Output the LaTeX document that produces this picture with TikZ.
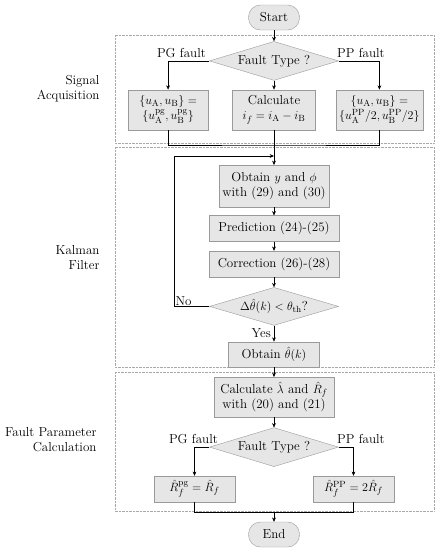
\documentclass[tikz,border=0pt]{standalone}
\usepackage{amsmath,amssymb}
\usepackage{tikz}
\usetikzlibrary{arrows.meta,positioning,shapes.geometric,calc}
\usepackage{xcolor}
\definecolor{BoxFill}{HTML}{E6E6E6}
\definecolor{BoxLine}{HTML}{9A9A9A}
\definecolor{RegionLine}{HTML}{A8A8A8}

\begin{document}
\begin{tikzpicture}[x=1pt,y=1pt,
  every node/.style={font=\fontsize{13}{15}\selectfont},
  stepbox/.style={draw=BoxLine,fill=BoxFill,align=center,inner sep=2pt},
  termbox/.style={draw=BoxLine,fill=BoxFill,rounded corners=12pt,minimum width=51pt,minimum height=25pt,inner sep=1pt},
  choice/.style={diamond,aspect=3.3,draw=BoxLine,fill=BoxFill,minimum width=129pt,minimum height=39pt,inner sep=0pt},
  region/.style={draw=RegionLine,densely dotted},
  flow/.style={-{Stealth[length=1.5mm,width=1.3mm]}},
  side/.style={align=right,anchor=east}]
\useasboundingbox (0,0) rectangle (440,-550);

% regions
\draw[region] (115,-35) rectangle (434,-143);
\draw[region] (115,-147) rectangle (434,-367);
\draw[region] (115,-372) rectangle (434,-511);
\node[side] at (103,-89) {Signal\\Acquisition};
\node[side] at (103,-258) {Kalman\\Filter};
\node[side] at (100,-440) {Fault Parameter\\Calculation};

% signal acquisition
\node[termbox] (start) at (274,-17.5) {Start};
\node[choice,below=11pt of start] (type1) {Fault Type ?};
\node[stepbox,below=9pt of type1,minimum width=83pt,minimum height=40pt] (calc1) {Calculate\\$i_f=i_\mathrm{A}-i_\mathrm{B}$};
\node[stepbox,left=24pt of calc1,minimum width=80pt,minimum height=40pt] (pgsig) {$\{u_\mathrm{A},u_\mathrm{B}\}=$\\$\{u_\mathrm{A}^\mathrm{pg},u_\mathrm{B}^\mathrm{pg}\}$};
\node[stepbox,right=20pt of calc1,minimum width=87pt,minimum height=40pt] (ppsig) {$\{u_\mathrm{A},u_\mathrm{B}\}=$\\$\{u_\mathrm{A}^\mathrm{PP}/2,u_\mathrm{B}^\mathrm{PP}/2\}$};
\node[above left=0pt and 0pt of type1.west] {PG fault};
\node[above right=0pt and -5pt of type1.east] {PP fault};

% kalman filter
\node[stepbox,below=35pt of calc1,minimum width=110pt,minimum height=42pt] (obtain) {Obtain $y$ and $\phi$\\with (29) and (30)};
\node[stepbox,below=8pt of obtain,minimum width=130pt,minimum height=26pt] (predict) {Prediction (24)-(25)};
\node[stepbox,below=9pt of predict,minimum width=130pt,minimum height=26pt] (correct) {Correction (26)-(28)};
\node[choice,below=10pt of correct,minimum height=38pt] (check) {$\Delta\hat{\theta}(k)<\theta_\mathrm{th}$?};
\node[stepbox,below=16pt of check,minimum width=91pt,minimum height=25pt] (thetahat) {Obtain $\hat{\theta}(k)$};

% fault parameter calculation
\node[stepbox,below=10pt of thetahat,minimum width=120pt,minimum height=40pt] (calc2) {Calculate $\hat{\lambda}$ and $\hat{R}_f$\\with (20) and (21)};
\node[choice,below=10pt of calc2] (type2) {Fault Type ?};
\node[stepbox,below=9pt of type2,xshift=-79.5pt,minimum width=81pt,minimum height=26pt] (pgfpc) {$\hat{R}_f^\mathrm{pg}=\hat{R}_f$};
\node[stepbox,below=9pt of type2,xshift=79.5pt,minimum width=81pt,minimum height=26pt] (ppfpc) {$\hat{R}_f^\mathrm{PP}=2\hat{R}_f$};
\node[above left=0pt and -12pt of type2.west] {PG fault};
\node[above right=0pt and -5pt of type2.east] {PP fault};
\node[termbox,below=55pt of type2] (end) {End};

\coordinate (join1) at ($(calc1.south)+(0,-15)$);
\coordinate (loopin) at ($(obtain.north)+(0,9)$);
\coordinate (loopout) at ($(check.west)+(-35,0)$);
\coordinate (join2) at ($(pgfpc.south)+(0,-10)$);

\draw[flow] (start) -- (type1);
\draw[flow] (type1.west) -| (pgsig.north);
\draw[flow] (type1.east) -| (ppsig.north);
\draw[flow] (type1) -- (calc1);
\draw (pgsig.south) |- (join1) -| (ppsig.south);
\draw[flow] (calc1) -- (obtain);
\draw[flow] (check.west) -- (loopout) |- (loopin);
\node[anchor=south west,inner sep=1pt] at (loopout) {No};
\draw[flow] (obtain) -- (predict);
\draw[flow] (predict) -- (correct);
\draw[flow] (correct) -- (check);
\draw[flow] (check) -- node[left,inner sep=3pt] {Yes} (thetahat);
\draw[flow] (thetahat) -- (calc2);
\draw[flow] (calc2) -- (type2);
\draw[flow] (type2.west) -| (pgfpc.north);
\draw[flow] (type2.east) -| (ppfpc.north);
\draw (pgfpc.south) |- (join2) -| (ppfpc.south);
\draw[flow] (join2 -| end) -- (end);
\end{tikzpicture}
\end{document}
